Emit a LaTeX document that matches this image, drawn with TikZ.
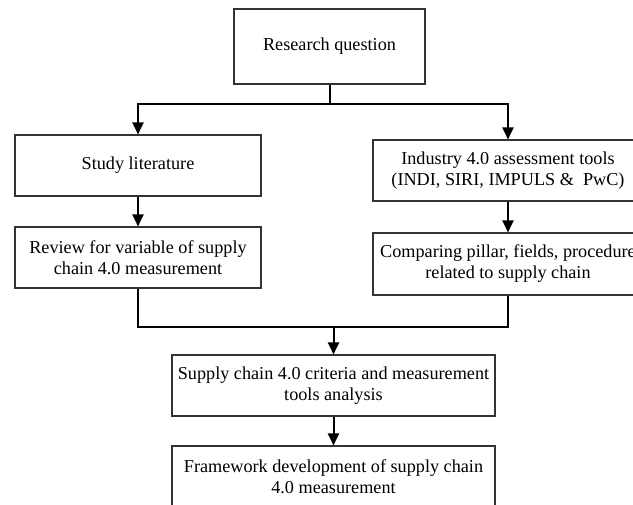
\documentclass[tikz,border=0pt]{standalone}
\usepackage{fontspec}
\setmainfont{Liberation Serif}
\usetikzlibrary{arrows.meta}
\begin{document}
\begin{tikzpicture}[x=1pt,y=-1pt,
  box/.style={draw=black!80,line width=1.1pt,rectangle,inner sep=0pt,align=center,
    font=\fontsize{18.2}{21}\selectfont},
  conn/.style={draw=black,line width=2pt},
  arr/.style={conn,-{Triangle[width=11pt,length=12pt]}}]
\useasboundingbox (0,0) rectangle (633,505);
\clip (0,0) rectangle (633,505);
\fill[white] (0,0) rectangle (633,505);
\node[box,minimum width=191pt,minimum height=75pt] (research) at (329.5,46.5) {Research question};
\node[box,minimum width=246pt,minimum height=61pt] (study) at (138,165.5) {Study literature};
\node[box,minimum width=246pt,minimum height=61pt] (review) at (138,257.5) {Review for variable of supply\\chain 4.0 measurement};
\node[box,minimum width=270pt,minimum height=61pt] (industry) at (508,170.5) {Industry 4.0 assessment tools\\(INDI, SIRI, IMPULS \&\ \ PwC)};
\node[box,minimum width=270pt,minimum height=62pt] (compare) at (508,264) {Comparing pillar, fields, procedure\\related to supply chain};
\node[box,minimum width=323pt,minimum height=61pt] (supply) at (333.5,385.5) {Supply chain 4.0 criteria and measurement\\tools analysis};
\node[box,minimum width=323pt,minimum height=61pt] (frame) at (333.5,476.5) {Framework development of supply chain\\4.0 measurement};
\coordinate (split) at (329.5,104);
\coordinate (merge) at (333.5,327);
\draw[conn] (research.south) -- (split);
\draw[arr] (split) -| (study.north);
\draw[arr] (split) -| (industry.north);
\draw[arr] (study.south) -- (review.north);
\draw[arr] (industry.south) -- (compare.north);
\draw[conn] (review.south) -- (review.south |- merge) -- (compare.south |- merge) -- (compare.south);
\draw[arr] (merge) -- (supply.north);
\draw[arr] (supply.south) -- (frame.north);
\end{tikzpicture}
\end{document}
